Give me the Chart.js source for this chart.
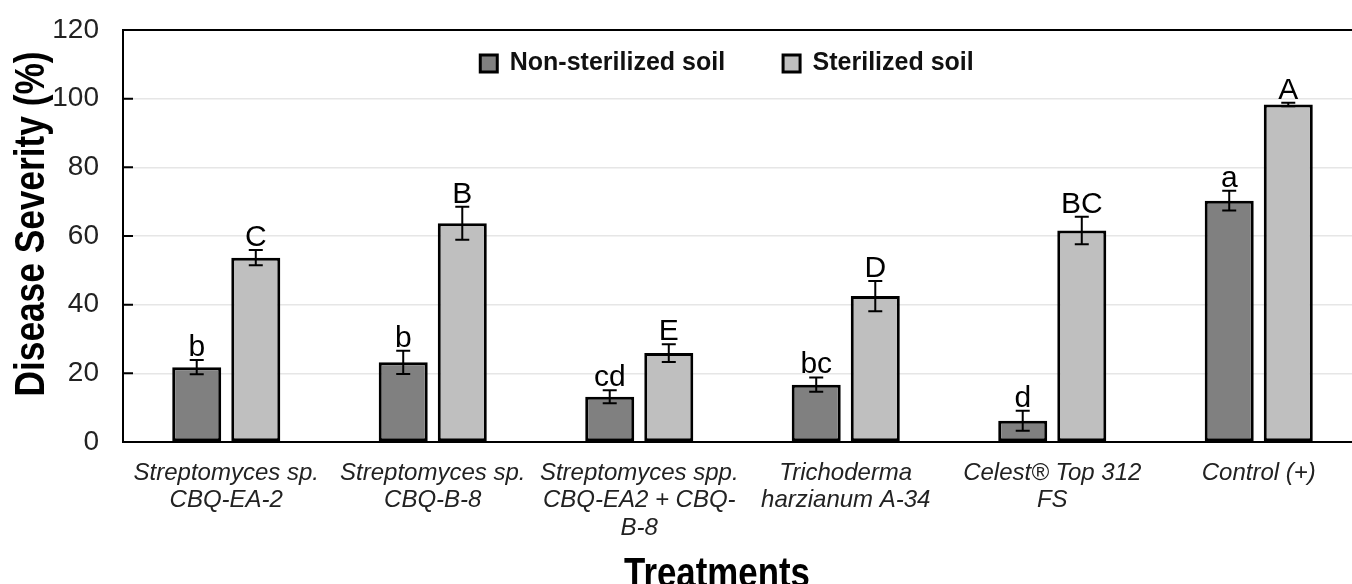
<!DOCTYPE html>
<html>
<head>
<meta charset="utf-8">
<script src="https://cdn.jsdelivr.net/npm/chart.js@4"></script>
<style>
  html, body { margin: 0; padding: 0; background: #fff; overflow: hidden; }
  #wrap { width: 1362px; height: 584px; position: relative; }
</style>
</head>
<body>
<div id="wrap"><canvas id="severityChart"></canvas></div>
<script>
// Tratamentos (eixo X)
const treatments = [
    ['Streptomyces sp.', 'CBQ-EA-2'],
    ['Streptomyces sp.', 'CBQ-B-8'],
    ['Streptomyces spp.', 'CBQ-EA2 + CBQ-', 'B-8'],
    ['Trichoderma', 'harzianum A-34'],
    ['Celest\u00AE Top 312', 'FS'],
    ['Control (+)']
];

// Severidade (%) por tipo de solo
const nonSterilized = [21.8, 23.2, 13.2, 16.7, 6.2, 70.3];
const sterilized = [53.7, 63.7, 25.9, 42.5, 61.6, 98.3];

// Erro padrão
const nonSterilizedErr = [2.1, 3.4, 1.9, 2.1, 2.9, 2.9];
const sterilizedErr = [2.2, 4.8, 2.6, 4.4, 4.0, 0.5];

// Letras de significância
const nonSterilizedLetters = ['b', 'b', 'cd', 'bc', 'd', 'a'];
const sterilizedLetters = ['C', 'B', 'E', 'D', 'BC', 'A'];

// Ticks do eixo Y
const yTicks = [0, 20, 40, 60, 80, 100, 120];

const sans = "'Liberation Sans', Arial, sans-serif";

// Plugin: barras de erro, letras, ticks internos, borda superior e títulos
const extrasPlugin = {
    id: 'extras',
    afterLayout(chart) {
        // coloca a legenda dentro da área do gráfico, perto do topo
        const lg = chart.legend;
        if (lg) {
            lg.top = -7;
            lg.bottom = 120;
            lg.left += 46;
            lg.right += 46;
        }
    },
    afterDatasetsDraw(chart) {
        const ctx = chart.ctx;
        const y = chart.scales.y;
        const area = chart.chartArea;
        const errs = [nonSterilizedErr, sterilizedErr];
        const letters = [nonSterilizedLetters, sterilizedLetters];

        ctx.save();
        ctx.strokeStyle = '#000';
        ctx.fillStyle = '#000';
        ctx.lineWidth = 2;
        chart.data.datasets.forEach((ds, di) => {
            const meta = chart.getDatasetMeta(di);
            meta.data.forEach((bar, i) => {
                const v = ds.data[i];
                const e = errs[di][i];
                const top = y.getPixelForValue(v + e);
                const bot = y.getPixelForValue(v - e);
                ctx.beginPath();
                ctx.moveTo(bar.x, top); ctx.lineTo(bar.x, bot);
                ctx.moveTo(bar.x - 7, top); ctx.lineTo(bar.x + 7, top);
                ctx.moveTo(bar.x - 7, bot); ctx.lineTo(bar.x + 7, bot);
                ctx.stroke();

                ctx.font = '30px ' + sans;
                ctx.textAlign = 'center';
                ctx.textBaseline = 'alphabetic';
                ctx.fillText(letters[di][i], bar.x, top - 4);
            });
        });

        // ticks para dentro no eixo Y
        ctx.beginPath();
        yTicks.forEach(t => {
            const py = y.getPixelForValue(t);
            ctx.moveTo(area.left, py);
            ctx.lineTo(area.left + 10, py);
        });
        ctx.stroke();

        // borda superior
        ctx.beginPath();
        ctx.moveTo(area.left, area.top);
        ctx.lineTo(area.right, area.top);
        ctx.stroke();

        // títulos dos eixos (fonte estreita: escala horizontal)
        ctx.font = 'bold 43px ' + sans;
        ctx.textAlign = 'center';
        ctx.textBaseline = 'alphabetic';
        ctx.save();
        ctx.translate(44, 224);
        ctx.rotate(-Math.PI / 2);
        ctx.scale(0.82, 1);
        ctx.fillText('Disease Severity (%)', 0, 0);
        ctx.restore();

        ctx.save();
        ctx.translate(717, 587);
        ctx.scale(0.81, 1);
        ctx.fillText('Treatments', 0, 0);
        ctx.restore();
        ctx.restore();
    }
};

const ctx = document.getElementById('severityChart').getContext('2d');
const severityChart = new Chart(ctx, {
    type: 'bar',
    data: {
        labels: treatments,
        datasets: [{
            label: 'Non-sterilized soil',
            data: nonSterilized,
            backgroundColor: '#808080',
            borderColor: '#000',
            borderWidth: 3,
            borderSkipped: false,
            categoryPercentage: 0.572,
            barPercentage: 0.83
        }, {
            label: 'Sterilized soil',
            data: sterilized,
            backgroundColor: '#bfbfbf',
            borderColor: '#000',
            borderWidth: 3,
            borderSkipped: false,
            categoryPercentage: 0.572,
            barPercentage: 0.83
        }]
    },
    options: {
        responsive: true,
        maintainAspectRatio: false,
        animation: false,
        layout: { padding: { top: 29, left: 0, right: 0, bottom: 0 } },
        plugins: {
            legend: {
                position: 'top',
                align: 'center',
                maxHeight: 1,
                labels: {
                    font: { family: sans, size: 25, weight: 'bold' },
                    color: '#111',
                    boxWidth: 17,
                    boxHeight: 17,
                    padding: 58
                }
            },
            tooltip: { enabled: false }
        },
        scales: {
            y: {
                min: 0,
                max: 120,
                afterBuildTicks: (scale) => { scale.ticks = yTicks.map(v => ({ value: v })); },
                afterFit: (scale) => {
                    scale.width = 123;
                    scale.paddingTop = 14;
                    scale.paddingBottom = 14;
                },
                ticks: {
                    font: { family: sans, size: 28 },
                    color: '#222',
                    padding: 24
                },
                grid: { color: '#e6e6e6', lineWidth: 1.5, drawTicks: false },
                border: { color: '#000', width: 2 }
            },
            x: {
                afterFit: (scale) => { scale.height = 142; },
                ticks: {
                    font: { family: sans, size: 24, style: 'italic', lineHeight: 1.16 },
                    color: '#222',
                    padding: 17,
                    maxRotation: 0,
                    autoSkip: false
                },
                grid: { display: false, drawTicks: false },
                border: { color: '#000', width: 2 }
            }
        }
    },
    plugins: [extrasPlugin]
});
severityChart.resize();
</script>
</body>
</html>
